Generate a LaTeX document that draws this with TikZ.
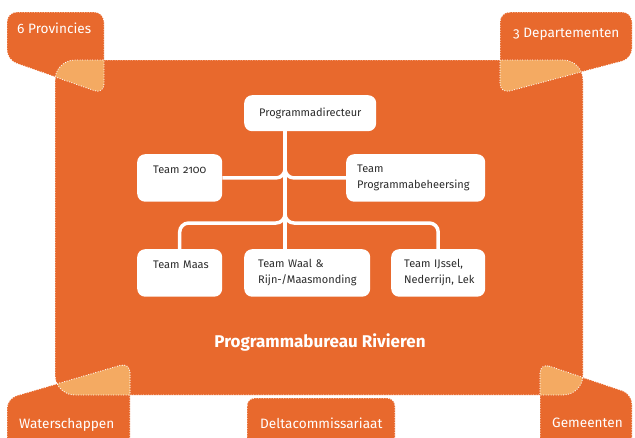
\documentclass[tikz,border=0pt]{standalone}
\usepackage{fontspec}
\setmainfont{Fira Sans}[Numbers=OldStyle]
\definecolor{mainorange}{HTML}{E8692D}
\definecolor{lightorange}{HTML}{F4AA62}
\definecolor{textdark}{HTML}{2B2B2B}
\tikzset{
  outline/.style={draw=white, line width=1.2pt, dash pattern=on 0pt off 2.5pt, line cap=round},
  unitbox/.style={fill=white, rounded corners=8pt, align=left, text=textdark,
    font=\fontsize{11}{16}\selectfont, inner ysep=0pt, minimum height=47.5pt, anchor=north west},
  link/.style={draw=white, line width=3.5pt, rounded corners=9pt},
  calltext/.style={text=white, font=\fontsize{13.6}{16}\selectfont, anchor=base west, inner sep=0pt},
  mainshape/.style={rounded corners=20pt, insert path={(55,60) rectangle (583,395)}},
  provshape/.style={rounded corners=10pt, insert path={(7,12) -- (104,12) -- (104,94) -- (7,60) -- cycle}},
  deptshape/.style={rounded corners=10pt, insert path={(500,12) -- (632,12) -- (632,58.5) -- (500,93.5) -- cycle}},
  watershape/.style={rounded corners=10pt, insert path={(7,398.5) -- (130,362.5) -- (130,450) -- (7,450) -- cycle}},
  gemshape/.style={rounded corners=10pt, insert path={(540,363) -- (632,394) -- (632,450) -- (540,450) -- cycle}},
  deltashape/.style={rounded corners=8pt, insert path={(247,398) rectangle (395,450)}},
}
\begin{document}
\begin{tikzpicture}[x=1pt,y=-1pt]
\useasboundingbox (0,0) rectangle (635,437);
% shapes
\fill[mainorange, mainshape];
\fill[mainorange, provshape];
\fill[mainorange, deptshape];
\fill[mainorange, watershape];
\fill[mainorange, gemshape];
\fill[mainorange, deltashape];
\begin{scope}
  \clip[mainshape];
  \fill[lightorange, provshape];
  \fill[lightorange, deptshape];
  \fill[lightorange, watershape];
  \fill[lightorange, gemshape];
\end{scope}
\draw[outline, mainshape];
\draw[outline, provshape];
\draw[outline, deptshape];
\draw[outline, watershape];
\draw[outline, gemshape];
\draw[outline, deltashape];
% callout labels
\node[calltext] (prov) at (17,33) {6 Provincies};
\node[calltext] (dept) at (513,37) {3 Departementen};
\node[calltext] (water) at (19,428) {Waterschappen};
\node[calltext] (gem) at (552,427) {Gemeenten};
\node[calltext] (delta) at (260,428) {Deltacommissariaat};
% org boxes
\node[unitbox, align=center, text width=102pt, inner xsep=15pt, minimum height=36pt] (pd) at (244,95) {\mbox{Programmadirecteur}};
\node[unitbox, text width=53pt, inner xsep=16pt] (t2100) at (137,154) {\mbox{Team 2100}\\\mbox{}};
\node[unitbox, text width=117pt, inner xsep=11pt] (tpb) at (346,154) {Team\\\mbox{Programmabeheersing}};
\node[unitbox, text width=53pt, inner xsep=16pt] (maas) at (137,249) {\mbox{Team Maas}\\\mbox{}};
\node[unitbox, text width=98pt, inner xsep=14pt] (waal) at (244,249) {\mbox{Team Waal \&}\\\mbox{Rijn-/Maasmonding}};
\node[unitbox, text width=68pt, inner xsep=13pt] (ijssel) at (391,249) {\mbox{Team IJssel,}\\\mbox{Nederrijn, Lek}};
% connectors
\coordinate (trunk) at (285,0);
\coordinate (bus) at (285,223);
\draw[link] (pd.south -| trunk) -- (waal.north -| trunk);
\draw[link] (t2100.east) -- (t2100.east -| trunk) -- ++(0,-15);
\draw[link] (tpb.west) -- (tpb.west -| trunk) -- ++(0,-15);
\draw[link] ([yshift=15pt]bus) -- (bus) -- (bus -| maas.north) -- (maas.north);
\draw[link] ([yshift=15pt]bus) -- (bus) -- (bus -| ijssel.north) -- (ijssel.north);
% title
\node[text=white, font=\bfseries\fontsize{17}{20}\selectfont] (title) at (320,342) {Programmabureau Rivieren};
\end{tikzpicture}
\end{document}
